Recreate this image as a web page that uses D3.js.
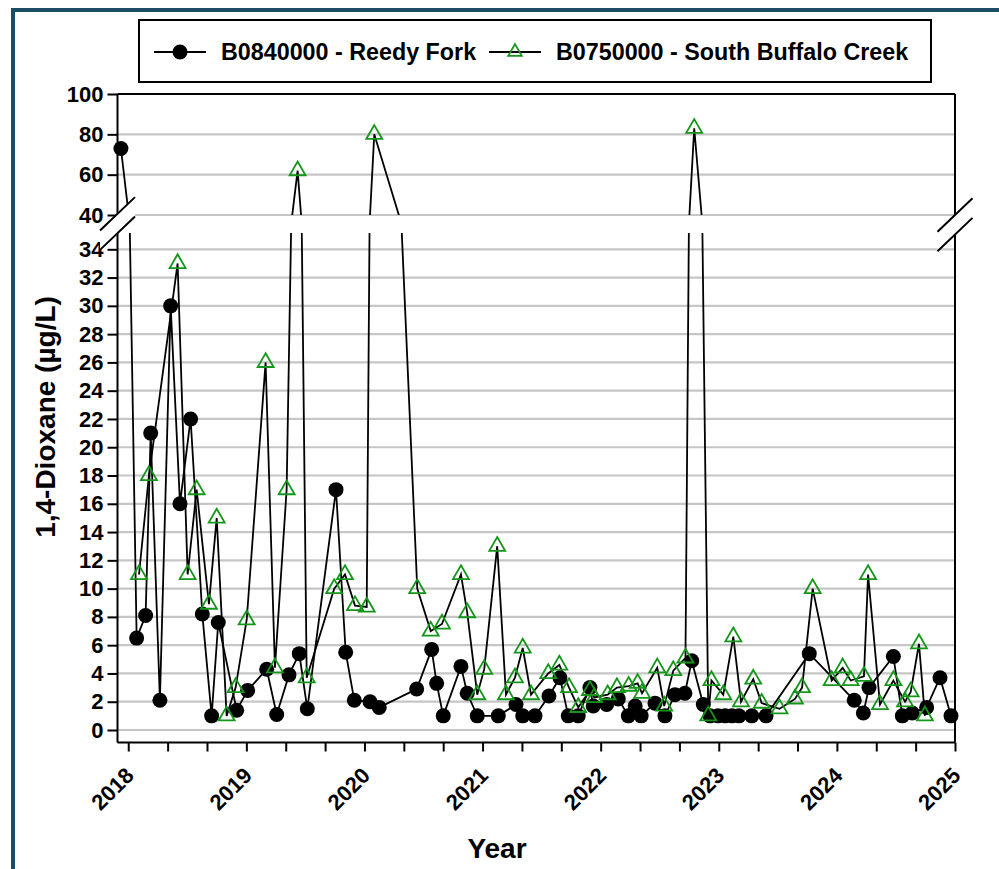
<!DOCTYPE html>
<html>
<head>
<meta charset="utf-8">
<script src="https://cdn.jsdelivr.net/npm/d3@7"></script>
<style>
  body { margin: 0; background: #fff; }
  svg { display: block; }
  text { font-family: "Liberation Sans", Arial, sans-serif; font-weight: bold; fill: #000; }
</style>
</head>
<body>
<svg id="chart" width="999" height="869"></svg>
<script>
// ---------------- DATA ----------------
const seriesNames = ["B0840000 - Reedy Fork", "B0750000 - South Buffalo Creek"];

// Reedy Fork (decimal year, µg/L)
const reedyYears = [2017.938, 2018.071, 2018.147, 2018.190, 2018.268, 2018.359, 2018.438, 2018.528, 2018.627, 2018.706,
  2018.762, 2018.918, 2019.011, 2019.172, 2019.257, 2019.361, 2019.448, 2019.516, 2019.759, 2019.841,
  2019.914, 2020.047, 2020.125, 2020.442, 2020.569, 2020.611, 2020.667, 2020.817, 2020.870, 2020.955,
  2021.133, 2021.283, 2021.340, 2021.444, 2021.562, 2021.655, 2021.726, 2021.810, 2021.909, 2021.937,
  2022.051, 2022.149, 2022.234, 2022.292, 2022.343, 2022.460, 2022.544, 2022.629, 2022.713, 2022.771,
  2022.869, 2022.926, 2022.993, 2023.053, 2023.112, 2023.171, 2023.279, 2023.400, 2023.766, 2024.147,
  2024.224, 2024.272, 2024.478, 2024.554, 2024.638, 2024.760, 2024.873, 2024.966];
const reedyValues = [73, 6.5, 8.1, 21, 2.1, 30, 16, 22, 8.2, 1.0,
  7.6, 1.4, 2.8, 4.3, 1.1, 3.9, 5.4, 1.5, 17, 5.5,
  2.1, 2.0, 1.6, 2.9, 5.7, 3.3, 1.0, 4.5, 2.6, 1.0,
  1.0, 1.8, 1.0, 1.0, 2.4, 3.7, 1.0, 1.0, 3.0, 1.7,
  1.8, 2.2, 1.0, 1.7, 1.0, 1.9, 1.0, 2.5, 2.6, 4.9,
  1.8, 1.0, 1.0, 1.0, 1.0, 1.0, 1.0, 1.0, 5.4, 2.1,
  1.2, 3.0, 5.2, 1.0, 1.2, 1.6, 3.7, 1.0];

// South Buffalo Creek (decimal year, µg/L)
const sbcYears = [2018.091, 2018.175, 2018.418, 2018.503, 2018.579, 2018.683, 2018.749, 2018.833, 2018.909, 2019.003,
  2019.163, 2019.242, 2019.341, 2019.434, 2019.511, 2019.744, 2019.835, 2019.920, 2020.019, 2020.083,
  2020.447, 2020.561, 2020.656, 2020.817, 2020.870, 2020.955, 2021.014, 2021.124, 2021.198, 2021.274,
  2021.340, 2021.410, 2021.556, 2021.650, 2021.732, 2021.810, 2021.909, 2021.946, 2022.059, 2022.138,
  2022.237, 2022.313, 2022.350, 2022.479, 2022.538, 2022.615, 2022.718, 2022.792, 2022.911, 2022.938,
  2023.038, 2023.123, 2023.188, 2023.292, 2023.363, 2023.514, 2023.645, 2023.705, 2023.795, 2023.956,
  2024.049, 2024.117, 2024.229, 2024.264, 2024.365, 2024.478, 2024.577, 2024.625, 2024.695, 2024.745];
const sbcValues = [11, 18, 33, 11, 17, 8.9, 15, 1.0, 3.0, 7.8,
  26, 4.4, 17, 62, 3.7, 10, 11, 8.8, 8.7, 80,
  10, 7.0, 7.5, 11, 8.3, 2.5, 4.3, 13, 2.5, 3.7,
  5.8, 2.5, 4.0, 4.6, 3.0, 1.6, 2.8, 2.3, 2.5, 3.0,
  3.1, 3.3, 2.6, 4.4, 1.7, 4.2, 5.1, 83, 1.0, 3.5,
  2.5, 6.6, 2.0, 3.6, 1.9, 1.5, 2.2, 3.0, 10, 3.5,
  4.4, 3.5, 3.8, 11, 1.8, 3.5, 2.0, 2.7, 6.1, 1.0];

// Axis ticks
const yearLabels = [2018, 2019, 2020, 2021, 2022, 2023, 2024, 2025];
const ticksPerYear = 3;
const lowerTicks = [0, 2, 4, 6, 8, 10, 12, 14, 16, 18, 20, 22, 24, 26, 28, 30, 32, 34];
const upperTicks = [40, 60, 80, 100];
const xTitle = "Year";
const yTitle = "1,4-Dioxane (µg/L)";

// ---------------- LAYOUT ----------------
const L = 117.5, R = 955, T = 94, B = 742.5;
const upBottom = 215, lowTop = 233;
const gridColor = "#c6c6c6";
const green = "#14961a";

const svg = d3.select("#chart");

// outer teal frame
svg.append("path").attr("d", "M13,869V10H999").attr("fill", "none")
  .attr("stroke", "#1d4d66").attr("stroke-width", 4);

const x = d3.scaleLinear().domain([2017.909, 2025]).range([L, R]);
const yLow = d3.scaleLinear().domain([0, 34]).range([730, 249.3]);
const yUp = d3.scaleLinear().domain([40, 100]).range([upBottom, T]);

const defs = svg.append("defs");
defs.append("clipPath").attr("id", "clipUp").append("rect")
  .attr("x", L).attr("y", T).attr("width", R - L).attr("height", upBottom - T);
defs.append("clipPath").attr("id", "clipLow").append("rect")
  .attr("x", L).attr("y", lowTop).attr("width", R - L).attr("height", B - lowTop);

// grid lines
const grid = svg.append("g");
grid.selectAll("line.lo").data(lowerTicks).join("line")
  .attr("x1", L).attr("x2", R).attr("y1", d => yLow(d)).attr("y2", d => yLow(d))
  .attr("stroke", gridColor).attr("stroke-width", 2.2);
grid.selectAll("line.up").data(upperTicks.filter(d => d < 100)).join("line")
  .attr("x1", L).attr("x2", R).attr("y1", d => yUp(d)).attr("y2", d => yUp(d))
  .attr("stroke", gridColor).attr("stroke-width", 2.2);

// axes (ticks + labels)
function styleAxis(g) {
  g.select(".domain").remove();
  g.selectAll(".tick line").attr("stroke", "#000").attr("stroke-width", 2);
  g.selectAll(".tick text").style("font-size", "22px").attr("fill", "#000");
}
svg.append("g").attr("transform", `translate(${L},0)`)
  .call(d3.axisLeft(yLow).tickValues(lowerTicks).tickSize(10).tickPadding(4)).call(styleAxis);
svg.append("g").attr("transform", `translate(${L},0)`)
  .call(d3.axisLeft(yUp).tickValues(upperTicks).tickSize(10).tickPadding(4)).call(styleAxis);

const xTickVals = d3.range(0, (yearLabels.length - 1) * ticksPerYear + 1).map(i => yearLabels[0] + i / ticksPerYear);
const xAxis = svg.append("g").attr("transform", `translate(0,${B})`)
  .call(d3.axisBottom(x).tickValues(xTickVals).tickSize(9)
    .tickFormat(d => (Math.abs(d - Math.round(d)) < 1e-6 && yearLabels.includes(Math.round(d))) ? String(Math.round(d)) : ""));
xAxis.select(".domain").remove();
xAxis.selectAll(".tick line").attr("stroke", "#000").attr("stroke-width", 2);
xAxis.selectAll(".tick text")
  .style("font-size", "22px")
  .attr("text-anchor", "end")
  .attr("y", 0).attr("dy", "0.35em")
  .attr("transform", "translate(1,29) rotate(-45)");

// plot frame (broken at axis break)
const frame = svg.append("g").attr("stroke", "#000").attr("stroke-width", 2).attr("fill", "none");
frame.append("path").attr("d", `M${L},${T}H${R}`);
frame.append("path").attr("d", `M${L},${B}H${R}`);
frame.append("path").attr("d", `M${L},${T}V213.5M${L},233V${B}`);
frame.append("path").attr("d", `M${R},${T}V215M${R},235V${B}`);

// data lines (drawn against both segments, clipped)
const reedy = reedyYears.map((t, i) => ({ t, v: reedyValues[i] }));
const sbc = sbcYears.map((t, i) => ({ t, v: sbcValues[i] }));
const lineUp = d3.line().x(d => x(d.t)).y(d => yUp(d.v));
const lineLow = d3.line().x(d => x(d.t)).y(d => yLow(d.v));
const yPos = d => d.v >= 40 ? yUp(d.v) : yLow(d.v);
const tri = d3.symbol(d3.symbolTriangle, 110);

function drawSeries(data, kind) {
  const g = svg.append("g");
  g.append("path").datum(data).attr("d", lineUp).attr("clip-path", "url(#clipUp)")
    .attr("fill", "none").attr("stroke", "#000").attr("stroke-width", 1.8);
  g.append("path").datum(data).attr("d", lineLow).attr("clip-path", "url(#clipLow)")
    .attr("fill", "none").attr("stroke", "#000").attr("stroke-width", 1.8);
  if (kind === "circle") {
    g.selectAll("circle").data(data).join("circle")
      .attr("cx", d => x(d.t)).attr("cy", yPos).attr("r", 7.5).attr("fill", "#000");
  } else {
    g.selectAll("path.m").data(data).join("path").attr("class", "m")
      .attr("d", tri).attr("transform", d => `translate(${x(d.t)},${yPos(d)})`)
      .attr("fill", "none").attr("stroke", green).attr("stroke-width", 1.8);
  }
}
drawSeries(reedy, "circle");
drawSeries(sbc, "tri");

// axis-break marks
function breakMark(cx, y1, y2) {
  const dx = 17.5, dy = 16.7;
  const g = svg.append("g");
  g.append("path").attr("d", `M${cx - dx},${y1 + dy}L${cx + dx},${y1 - dy}L${cx + dx},${y2 - dy}L${cx - dx},${y2 + dy}Z`)
    .attr("fill", "#fff");
  g.append("path").attr("d", `M${cx - dx},${y1 + dy}L${cx + dx},${y1 - dy}M${cx - dx},${y2 + dy}L${cx + dx},${y2 - dy}`)
    .attr("stroke", "#000").attr("stroke-width", 2);
}
breakMark(L, 213.8, 233.2);
breakMark(R, 215, 234.6);

// axis titles
svg.append("text").attr("transform", "translate(45,417) rotate(-90)")
  .attr("text-anchor", "middle").attr("dy", "0.35em").style("font-size", "28px").text(yTitle);
svg.append("text").attr("x", 497).attr("y", 858).attr("text-anchor", "middle")
  .style("font-size", "28px").text(xTitle);

// legend
const lg = svg.append("g");
lg.append("rect").attr("x", 139).attr("y", 20).attr("width", 792).attr("height", 62)
  .attr("fill", "#fff").attr("stroke", "#000").attr("stroke-width", 2);
const ly = 52;
const items = [{ x0: 154, tx: 221, kind: "circle" }, { x0: 489, tx: 556, kind: "tri" }];
items.forEach((it, i) => {
  lg.append("line").attr("x1", it.x0).attr("x2", it.x0 + 52).attr("y1", ly).attr("y2", ly)
    .attr("stroke", "#000").attr("stroke-width", 1.8);
  if (it.kind === "circle") {
    lg.append("circle").attr("cx", it.x0 + 26).attr("cy", ly).attr("r", 7.5).attr("fill", "#000");
  } else {
    lg.append("path").attr("d", d3.symbol(d3.symbolTriangle, 80)).attr("transform", `translate(${it.x0 + 26},${ly})`)
      .attr("fill", "none").attr("stroke", green).attr("stroke-width", 1.8);
  }
  lg.append("text").attr("x", it.tx).attr("y", ly).attr("dy", "0.36em")
    .style("font-size", "23.3px").text(seriesNames[i]);
});
</script>
</body>
</html>
